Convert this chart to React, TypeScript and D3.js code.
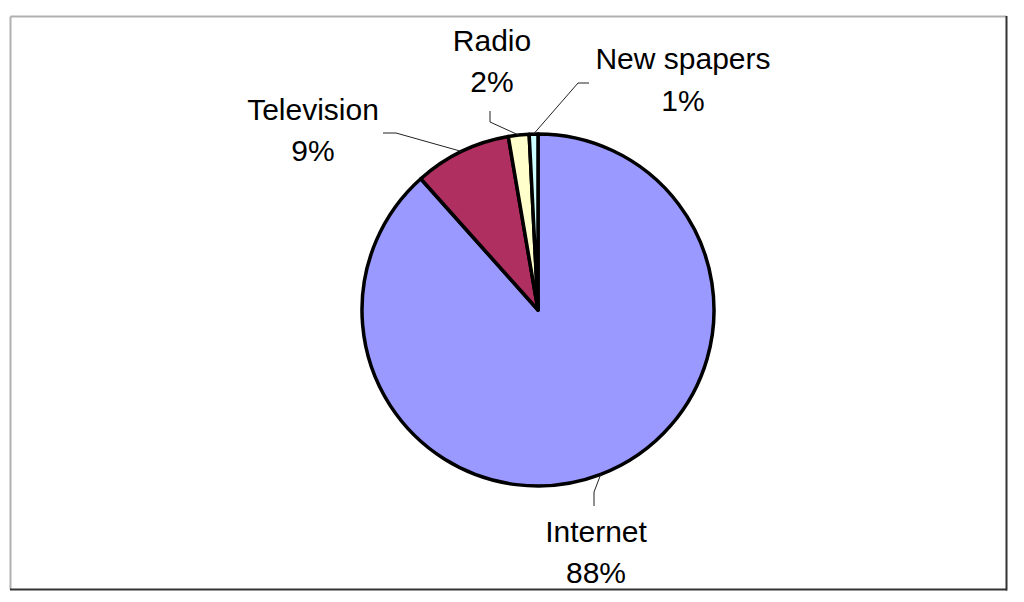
import React from "react";
import * as d3 from "d3";

const categories = ["Internet", "Television", "Radio", "New spapers"];
const values = [88.4, 8.9, 1.9, 0.8];
const colors = ["#9999FF", "#AE2F60", "#FFFFCC", "#CCFFFF"];

// label layout (text centre, baselines, leader-line start points)
const labelLayout = [
  { x: 596, y1: 542, y2: 583, lead: [[594, 506], [594, 492]] },
  { x: 313, y1: 120, y2: 161, lead: [[383, 133], [396, 133]] },
  { x: 492, y1: 51, y2: 92, lead: [[490, 111], [490, 122]] },
  { x: 683, y1: 69, y2: 111, lead: [[589, 83], [578, 83]] },
];

const W = 1024;
const H = 602;
const cx = 538;
const cy = 310;
const R = 176;

export default function App() {
  const pie = d3
    .pie<number>()
    .sort(null)
    .startAngle(0)
    .endAngle(2 * Math.PI)(values);
  const arc = d3.arc<d3.PieArcDatum<number>>().innerRadius(0).outerRadius(R);
  const total = d3.sum(values);
  const line = d3.line();

  return (
    <svg
      width={W}
      height={H}
      style={{ position: "absolute", left: 0, top: 0, background: "#fff" }}
      fontFamily="'Liberation Sans', Arial, sans-serif"
    >
      <rect x={0} y={0} width={W} height={H} fill="#fff" />
      {/* frame */}
      <line x1={10.5} y1={16.5} x2={1006.5} y2={16.5} stroke="#b0b0b0" strokeWidth={2} />
      <line x1={10.5} y1={16.5} x2={10.5} y2={589.5} stroke="#b0b0b0" strokeWidth={2} />
      <line x1={1006.5} y1={16} x2={1006.5} y2={590.5} stroke="#333" strokeWidth={2} />
      <line x1={10} y1={589.5} x2={1007} y2={589.5} stroke="#333" strokeWidth={2} />

      <g transform={`translate(${cx},${cy})`}>
        {pie.map((d, i) => (
          <path
            key={i}
            d={arc(d) || ""}
            fill={colors[i]}
            stroke="#000"
            strokeWidth={3.5}
            strokeLinejoin="round"
          />
        ))}
      </g>

      {pie.map((d, i) => {
        const mid = (d.startAngle + d.endAngle) / 2;
        const ex = cx + R * Math.sin(mid);
        const ey = cy - R * Math.cos(mid);
        const L = labelLayout[i];
        const pts: [number, number][] = [
          [L.lead[0][0], L.lead[0][1]],
          [L.lead[1][0], L.lead[1][1]],
          [ex, ey],
        ];
        return (
          <path
            key={"l" + i}
            d={line(pts) || ""}
            fill="none"
            stroke="#222"
            strokeWidth={1}
          />
        );
      })}

      {categories.map((c, i) => {
        const L = labelLayout[i];
        const pct = Math.round((values[i] / total) * 100);
        return (
          <g key={"t" + i} fontSize={30} fill="#000" textAnchor="middle">
            <text x={L.x} y={L.y1}>{c}</text>
            <text x={L.x} y={L.y2}>{pct}%</text>
          </g>
        );
      })}
    </svg>
  );
}
